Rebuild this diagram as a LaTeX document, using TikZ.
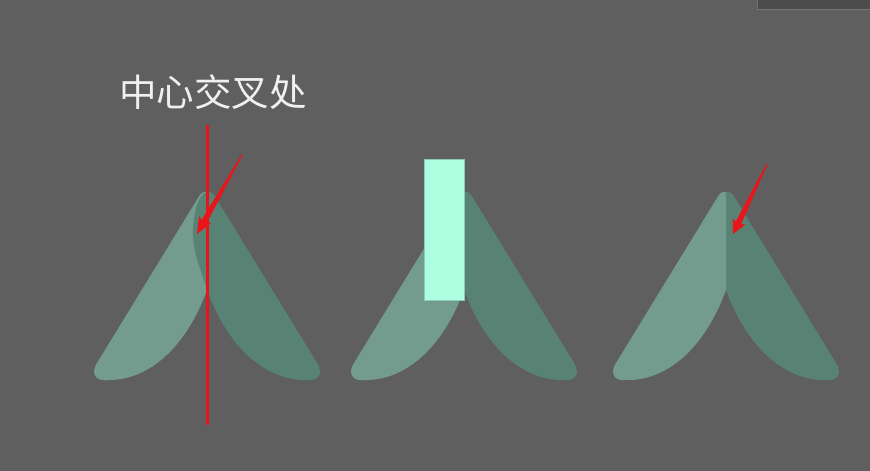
\documentclass[tikz,border=0pt]{standalone}
\usepackage{fontspec}
\newfontfamily\cjk{Noto Sans CJK SC}
\usetikzlibrary{calc}
\definecolor{bgc}{HTML}{5F5F5F}
\definecolor{leafl}{HTML}{739C8F}
\definecolor{leafd}{HTML}{588274}
\definecolor{mint}{HTML}{ADFFE2}
\definecolor{mred}{HTML}{E8161B}
\tikzset{
  leafL/.style={fill=leafl},
  leafR/.style={fill=leafd},
  redline/.style={draw=mred, line width=3pt},
  redarrow/.style={fill=mred},
  label/.style={font=\cjk\fontsize{37.5}{40}\selectfont, text=white!94!black, inner sep=0pt}
}
% right leaf path, centre #1
\newcommand{\rightleafpath}[1]{
  (#1+9,198) -- (#1+110,363) .. controls (#1+117,374) and (#1+111,382) .. (#1+98,380)
  .. controls (#1+60,380) and (#1+22,350) .. (#1,290)
  .. controls (#1-6,270) and (#1-15,250) .. (#1-14,230)
  .. controls (#1-13,210) and (#1-8,194) .. (#1,192)
  .. controls (#1+4,191) and (#1+7,194) .. (#1+9,198) -- cycle
}
\newcommand{\leftleafpath}[1]{
  (#1-9,198) -- (#1-110,363) .. controls (#1-117,374) and (#1-111,382) .. (#1-98,380)
  .. controls (#1-60,380) and (#1-22,350) .. (#1,290)
  .. controls (#1+6,270) and (#1+15,250) .. (#1+14,230)
  .. controls (#1+13,210) and (#1+8,194) .. (#1,192)
  .. controls (#1-4,191) and (#1-7,194) .. (#1-9,198) -- cycle
}
\newcommand{\taperarrow}[2]{
  \fill[redarrow] ($(#1)!0.6pt!90:(#2)$) -- ($(#1)!0.84!(#2)!3pt!90:(#2)$)
    -- ($(#1)!0.82!(#2)!7pt!90:(#2)$) -- (#2)
    -- ($(#1)!0.82!(#2)!7pt!-90:(#2)$)
    -- ($(#1)!0.84!(#2)!3pt!-90:(#2)$) -- ($(#1)!0.6pt!-90:(#2)$) -- cycle;
}
\begin{document}
\begin{tikzpicture}[x=1pt,y=-1pt]
\fill[bgc] (0,0) rectangle (870,471);
\useasboundingbox (0,0) rectangle (870,471);
% top-right screen artefact
\fill[black!70] (757,0) rectangle (870,9);
\draw[black!55, line width=0.8pt] (757,0) -- (757,9) -- (870,9);

% label
\node[label] (title) at (213,92) {中心交叉处};

% figure 1: overlapping leaves
\fill[leafL] \leftleafpath{207};
\fill[leafR] \rightleafpath{207};
\coordinate (l1top) at (207,125);
\coordinate (l1bot) at (207,425);
\draw[redline] (l1top) -- (l1bot);
\coordinate (a1t) at (242,155);
\coordinate (a1h) at (197,234);
\taperarrow{a1t}{a1h}

% figure 2: leaves with covering rectangle
\fill[leafL] \leftleafpath{464};
\fill[leafR] \rightleafpath{464};
\node[draw=mint!80!black, line width=0.4pt, fill=mint, minimum width=40pt, minimum height=141pt, inner sep=0pt, anchor=north west] (rect) at (424,159) {};

% figure 3: leaves cut at the centre
\begin{scope}
  \clip (600,180) rectangle (726,400);
  \fill[leafL] \leftleafpath{726};
\end{scope}
\begin{scope}
  \clip (726,180) rectangle (860,400);
  \fill[leafR] \rightleafpath{726};
\end{scope}
\coordinate (a3t) at (767,164);
\coordinate (a3h) at (733,234);
\taperarrow{a3t}{a3h}
\end{tikzpicture}
\end{document}
